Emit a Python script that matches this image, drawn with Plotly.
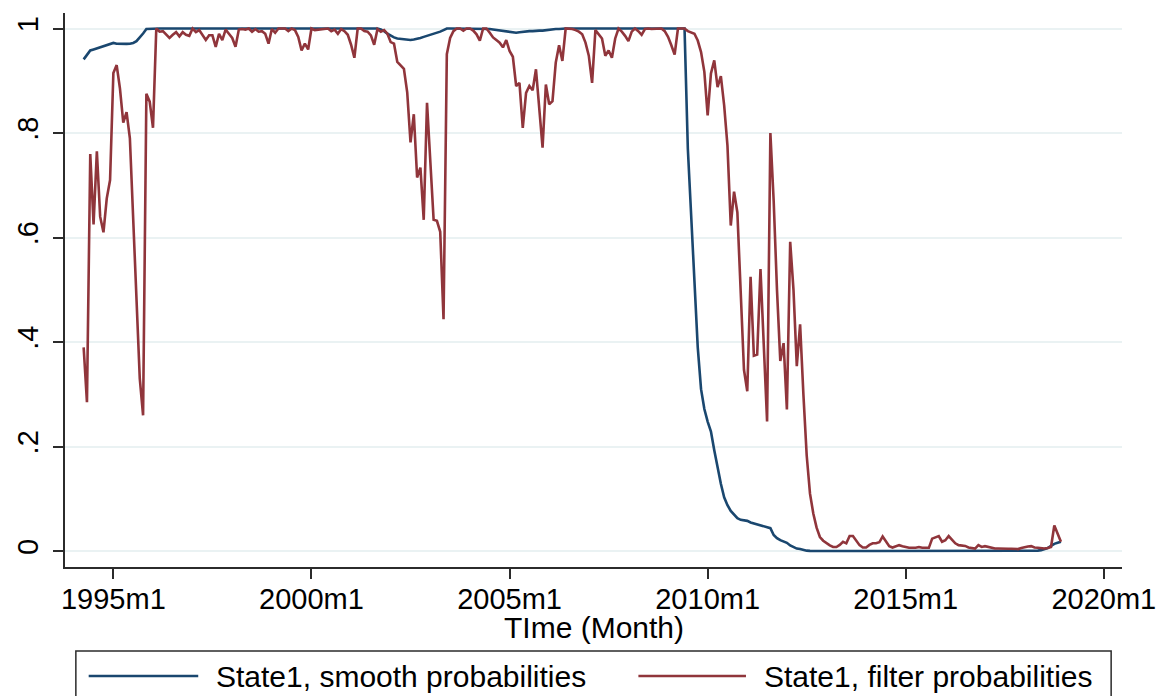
import plotly.graph_objects as go

# Monthly observations, 1994m4 .. 2018m12 (Stata %tm: 1960m1 = 0)
start_tm = 411  # 1994m4

filter_prob = [
    # 1994m4-1994m12
    0.39, 0.285, 0.76, 0.625, 0.765, 0.64, 0.61, 0.675, 0.71,
    # 1995
    0.915, 0.93, 0.885, 0.82, 0.84, 0.79, 0.64, 0.48, 0.33, 0.26, 0.875, 0.86,
    # 1996
    0.81, 1.0, 0.994, 0.995, 0.988, 0.982, 0.988, 0.993, 0.985, 0.993, 0.988, 0.986,
    # 1997
    1.0, 0.993, 0.997, 0.988, 0.978, 0.987, 0.987, 0.965, 0.99, 0.978, 0.998, 0.99,
    # 1998
    0.982, 0.965, 0.998, 0.999, 0.998, 1.0, 0.994, 0.999, 0.994, 0.995, 0.99, 0.971,
    # 1999
    0.999, 0.992, 1.0, 1.0, 1.0, 0.995, 1.0, 0.997, 0.984, 0.958, 0.971, 0.96,
    # 2000
    1.0, 0.997, 0.998, 0.999, 1.0, 1.0, 0.995, 0.998, 0.99, 0.999, 0.995, 0.988,
    # 2001
    0.969, 0.944, 1.0, 1.0, 0.995, 0.994, 0.987, 0.969, 0.999, 0.994, 0.997, 0.99,
    # 2002
    0.974, 0.971, 0.936, 0.929, 0.923, 0.878, 0.782, 0.836, 0.715, 0.734, 0.634, 0.858,
    # 2003
    0.746, 0.634, 0.632, 0.611, 0.444, 0.951, 0.982, 0.995, 1.0, 1.0, 0.996, 1.0,
    # 2004
    1.0, 0.996, 0.989, 0.977, 1.0, 1.0, 0.992, 0.983, 0.978, 0.973, 0.964, 0.978,
    # 2005
    0.957, 0.946, 0.89, 0.896, 0.81, 0.877, 0.89, 0.882, 0.922, 0.852, 0.772, 0.893,
    # 2006
    0.855, 0.861, 0.935, 0.968, 0.938, 1.0, 1.0, 0.999, 0.997, 0.994, 0.989, 0.973,
    # 2007
    0.948, 0.896, 0.997, 0.988, 0.981, 0.948, 0.958, 0.944, 0.981, 1.0, 0.994, 0.986,
    # 2008
    0.976, 0.994, 1.0, 0.995, 0.988, 0.999, 1.0, 0.999, 0.999, 1.0, 1.0, 0.995,
    # 2009
    0.984, 0.968, 0.95, 1.0, 1.0, 1.0, 0.995, 0.992, 0.99, 0.977, 0.955, 0.917,
    # 2010
    0.834, 0.914, 0.939, 0.888, 0.909, 0.853, 0.776, 0.623, 0.688, 0.648, 0.482, 0.347,
    # 2011
    0.306, 0.525, 0.374, 0.376, 0.54, 0.395, 0.248, 0.80, 0.67, 0.50, 0.364, 0.398,
    # 2012
    0.271, 0.592, 0.50, 0.354, 0.434, 0.30, 0.183, 0.11, 0.072, 0.045, 0.027, 0.02,
    # 2013
    0.015, 0.011, 0.008, 0.008, 0.012, 0.018, 0.015, 0.029, 0.029, 0.021, 0.0115, 0.007,
    # 2014
    0.007, 0.012, 0.015, 0.015, 0.017, 0.028, 0.018, 0.0096, 0.007, 0.009, 0.0115, 0.0096,
    # 2015
    0.008, 0.0064, 0.0064, 0.0064, 0.008, 0.0064, 0.0064, 0.0064, 0.024, 0.027, 0.029, 0.018,
    # 2016
    0.021, 0.029, 0.022, 0.015, 0.0115, 0.011, 0.01, 0.007, 0.006, 0.005, 0.0115, 0.008,
    # 2017
    0.0096, 0.008, 0.006, 0.005, 0.005, 0.0045, 0.0045, 0.0045, 0.0045, 0.004, 0.004, 0.006,
    # 2018
    0.008, 0.009, 0.0096, 0.007, 0.0065, 0.006, 0.005, 0.006, 0.008, 0.049, 0.033, 0.018,
]

smooth_prob = [
    # 1994m4-1994m12
    0.941, 0.949, 0.958, 0.960, 0.962, 0.9635, 0.966, 0.969, 0.971,
    # 1995
    0.9725, 0.971, 0.9706, 0.9706, 0.9706, 0.971, 0.9725, 0.9757, 0.9827, 0.9904, 0.999, 0.9995,
    # 1996
    1.0, 1.0, 1.0, 1.0, 1.0, 1.0, 1.0, 1.0, 1.0, 1.0, 1.0, 1.0,
    # 1997
    1.0, 1.0, 1.0, 1.0, 1.0, 1.0, 1.0, 1.0, 1.0, 1.0, 1.0, 1.0,
    # 1998
    1.0, 1.0, 1.0, 1.0, 1.0, 1.0, 1.0, 1.0, 1.0, 1.0, 1.0, 1.0,
    # 1999
    1.0, 1.0, 1.0, 1.0, 1.0, 1.0, 1.0, 1.0, 1.0, 1.0, 1.0, 1.0,
    # 2000
    1.0, 1.0, 1.0, 1.0, 1.0, 1.0, 1.0, 1.0, 1.0, 1.0, 1.0, 1.0,
    # 2001
    1.0, 1.0, 1.0, 1.0, 1.0, 1.0, 1.0, 1.0, 1.0, 0.998, 0.995, 0.99,
    # 2002
    0.986, 0.983, 0.981, 0.98, 0.979, 0.978, 0.978, 0.979, 0.98, 0.982, 0.984, 0.986,
    # 2003
    0.987, 0.989, 0.991, 0.994, 0.997, 1.0, 1.0, 1.0, 1.0, 1.0, 1.0, 1.0,
    # 2004
    1.0, 1.0, 1.0, 1.0, 1.0, 1.0, 0.999, 0.998, 0.997, 0.996, 0.995, 0.994,
    # 2005
    0.993, 0.992, 0.992, 0.993, 0.994, 0.995, 0.995, 0.995, 0.996, 0.996, 0.996, 0.997,
    # 2006
    0.997, 0.998, 0.999, 0.999, 1.0, 1.0, 1.0, 1.0, 1.0, 1.0, 1.0, 1.0,
    # 2007
    1.0, 1.0, 1.0, 1.0, 1.0, 1.0, 1.0, 1.0, 1.0, 1.0, 1.0, 1.0,
    # 2008
    1.0, 1.0, 1.0, 1.0, 1.0, 1.0, 1.0, 1.0, 1.0, 1.0, 1.0, 1.0,
    # 2009
    1.0, 1.0, 1.0, 1.0, 1.0, 1.0, 0.77, 0.64, 0.515, 0.39, 0.31, 0.272,
    # 2010
    0.248, 0.229, 0.193, 0.158, 0.129, 0.103, 0.088, 0.077, 0.069, 0.063, 0.06, 0.059,
    # 2011
    0.058, 0.055, 0.053, 0.051, 0.049, 0.048, 0.046, 0.044, 0.031, 0.025, 0.021, 0.018,
    # 2012
    0.016, 0.011, 0.008, 0.005, 0.004, 0.002, 0.001, 0.0005, 0.0004, 0.0003, 0.0003, 0.0002,
    # 2013
    0.0002, 0.0002, 0.0002, 0.0002, 0.0002, 0.0002, 0.0002, 0.0002, 0.0002, 0.0002, 0.0002, 0.0002,
    # 2014
    0.0002, 0.0002, 0.0002, 0.0002, 0.0002, 0.0002, 0.0002, 0.0002, 0.0002, 0.0002, 0.0002, 0.0002,
    # 2015
    0.0001, 0.0001, 0.0001, 0.0001, 0.0001, 0.0001, 0.0001, 0.0001, 0.0001, 0.0001, 0.0001, 0.0001,
    # 2016
    0.0001, 0.0001, 0.0001, 0.0001, 0.0001, 0.0001, 0.0001, 0.0001, 0.0001, 0.0001, 0.0001, 0.0001,
    # 2017
    0.0001, 0.0001, 0.0001, 0.0001, 0.0001, 0.0001, 0.0001, 0.0001, 0.0001, 0.0001, 0.0001, 0.0001,
    # 2018
    0.0001, 0.0002, 0.0003, 0.0005, 0.001, 0.002, 0.004, 0.006, 0.01, 0.014, 0.016, 0.018,
]

months = [start_tm + i for i in range(len(filter_prob))]

x_tickvals = [420, 480, 540, 600, 660, 720]
x_ticktext = ["1995m1", "2000m1", "2005m1", "2010m1", "2015m1", "2020m1"]
y_tickvals = [0, 0.2, 0.4, 0.6, 0.8, 1]
y_ticktext = ["0", ".2", ".4", ".6", ".8", "1"]

series_names = ["State1, smooth probabilities", "State1, filter probabilities"]
x_title = "TIme (Month)"
BLUE = "#1a476f"
RED = "#90353b"
FONT = "Liberation Sans, Arial, Helvetica, sans-serif"
AXIS = "#2b2b2b"

fig = go.Figure()
fig.add_trace(go.Scatter(x=months, y=smooth_prob, mode="lines", name=series_names[0],
                         line=dict(color=BLUE, width=2.6)))
fig.add_trace(go.Scatter(x=months, y=filter_prob, mode="lines", name=series_names[1],
                         line=dict(color=RED, width=2.6)))

L, R, T, B = 62, 35, 13, 129
W, H = 1168, 696
pw, ph = W - L - R, H - T - B


def px_x(X):
    return (X - L) / pw


def px_y(Y):
    return (H - B - Y) / ph


shapes = [
    dict(type="rect", xref="paper", yref="paper", x0=px_x(73), x1=px_x(1122),
         y0=px_y(720), y1=px_y(651), line=dict(color=AXIS, width=1.5),
         fillcolor="rgba(0,0,0,0)"),
    dict(type="line", xref="paper", yref="paper", x0=px_x(86), x1=px_x(197),
         y0=px_y(676), y1=px_y(676), line=dict(color=BLUE, width=2.6)),
    dict(type="line", xref="paper", yref="paper", x0=px_x(643), x1=px_x(752),
         y0=px_y(676), y1=px_y(676), line=dict(color=RED, width=2.6)),
]
annotations = [
    dict(text=series_names[0], xref="paper", yref="paper", x=px_x(213), y=px_y(676),
         xanchor="left", yanchor="middle", showarrow=False,
         font=dict(family=FONT, size=30, color="black")),
    dict(text=series_names[1], xref="paper", yref="paper", x=px_x(768), y=px_y(676),
         xanchor="left", yanchor="middle", showarrow=False,
         font=dict(family=FONT, size=30, color="black")),
    dict(text=x_title, xref="paper", yref="paper", x=px_x(598), y=px_y(627),
         xanchor="center", yanchor="middle", showarrow=False,
         font=dict(family=FONT, size=30, color="black")),
]

fig.update_layout(
    width=W, height=H, autosize=False,
    margin=dict(l=L, r=R, t=T, b=B, pad=0),
    paper_bgcolor="white", plot_bgcolor="white",
    showlegend=False,
    font=dict(family=FONT, size=29, color="black"),
    shapes=shapes, annotations=annotations,
    xaxis=dict(
        range=[405.35, 725.5], tickmode="array", tickvals=x_tickvals, ticktext=x_ticktext,
        showgrid=False, zeroline=False, showline=True, linecolor=AXIS, linewidth=1.5,
        ticks="outside", ticklen=10, tickwidth=1.5, tickcolor=AXIS,
        tickfont=dict(family=FONT, size=29, color="black"),
        ticklabelstandoff=-5,
    ),
    yaxis=dict(
        range=[-0.0303, 1.0297], tickmode="array", tickvals=y_tickvals, ticktext=y_ticktext,
        showgrid=True, gridcolor="#eaf2f3", gridwidth=2, zeroline=False,
        showline=True, linecolor=AXIS, linewidth=1.5,
        ticks="outside", ticklen=10, tickwidth=1.5, tickcolor=AXIS,
        tickangle=-90, tickfont=dict(family=FONT, size=29, color="black"),
        ticklabelstandoff=4,
    ),
)

fig.write_html("out.html", config={"responsive": False})
